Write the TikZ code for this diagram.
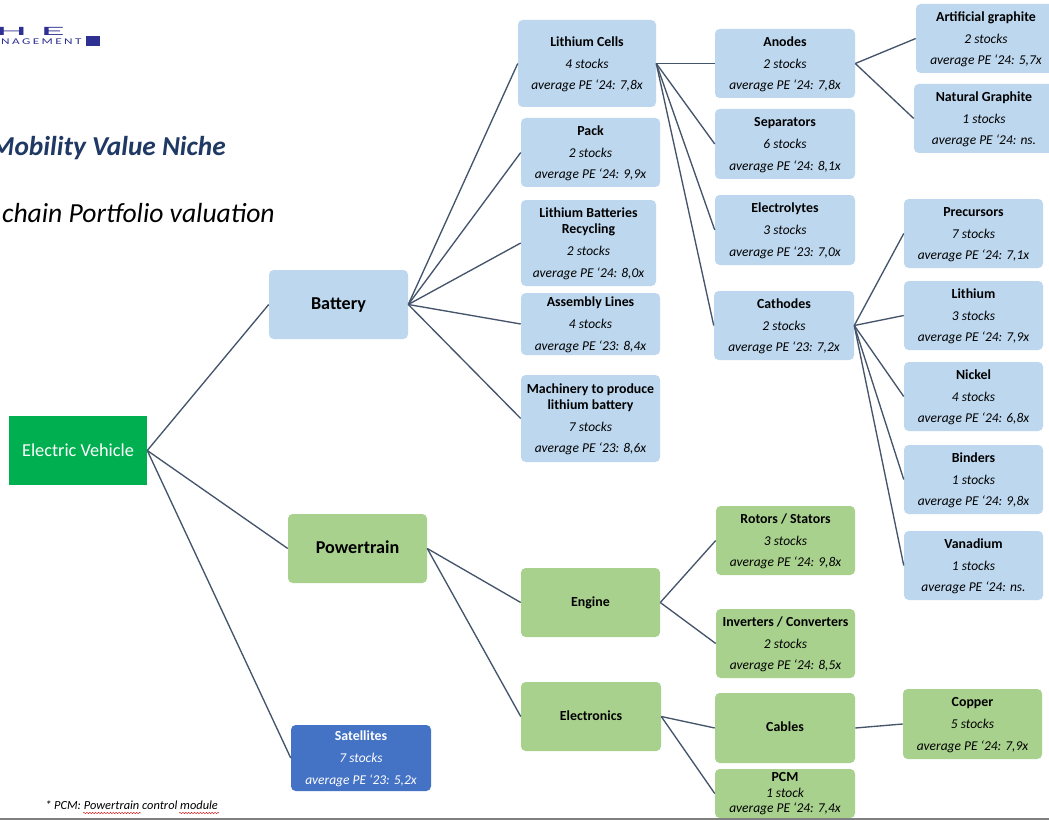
\documentclass[tikz,border=0pt]{standalone}
\usepackage{fontspec}
\setmainfont{Carlito}
\usetikzlibrary{decorations.pathmorphing}
\definecolor{bluebox}{RGB}{189,215,238}
\definecolor{greenbox}{RGB}{169,209,142}
\definecolor{evgreen}{RGB}{0,176,80}
\definecolor{satblue}{RGB}{68,114,196}
\definecolor{edgecol}{RGB}{68,84,106}
\definecolor{titleblue}{RGB}{31,56,100}
\definecolor{logoblue}{RGB}{46,49,146}
\tikzset{
  boxbase/.style={rounded corners=3.5pt,inner sep=0pt,align=center,text=black,
    font=\fontsize{10.1}{12}\selectfont},
  bb/.style={boxbase,fill=bluebox},
  gb/.style={boxbase,fill=greenbox},
  sb/.style={boxbase,fill=satblue,text=white},
  evb/.style={inner sep=0pt,fill=evgreen,text=white,font=\fontsize{13.7}{16}\selectfont},
  bigb/.style={font=\fontsize{13.6}{16}\selectfont\bfseries},
  link/.style={draw=edgecol,line width=1pt},
  squig/.style={draw=red!85!black,line width=0.3pt,decorate,decoration={snake,amplitude=0.5pt,segment length=2.2pt}}
}
\newcommand{\ttl}[1]{{\fontsize{10.4}{12}\selectfont\bfseries #1}}
\newcommand{\onel}[1]{\ttl{\rule[-3.2pt]{0pt}{12pt}#1}}
\newcommand{\biglab}[1]{\rule[-3.6pt]{0pt}{15pt}#1}
\newcommand{\bx}[7]{\node[#2,minimum width={(#5-#3)*0.75pt},minimum height={(#6-#4)*0.75pt}] (#1) at ({(#3+#5)/2},{(#4+#6)/2}) {#7};}
\newcommand{\topstr}{\rule{0pt}{8.5pt}}
\newcommand{\tri}[3]{\topstr\ttl{#1}\\[4.2pt]{\itshape #2}\\[4.2pt]{\itshape #3}}
\newcommand{\pcmtxt}[3]{\ttl{#1}\\[0.6pt]{\itshape #2}\\[-1pt]{\itshape #3}}
\begin{document}
\begin{tikzpicture}[x=0.75pt,y=-0.75pt]
\useasboundingbox (0,0) rectangle (1049,820);
\fill[white] (0,0) rectangle (1049,820);
\clip (0,0) rectangle (1049,820);
% logo
\node[anchor=east,text=logoblue,font=\fontsize{9.5}{10}\selectfont,xscale=3.9,inner sep=0pt] (logoh) at (28,31) {H};
\node[anchor=east,text=logoblue,font=\fontsize{9.5}{10}\selectfont,xscale=3.9,inner sep=0pt] (logoe) at (66,31) {E};
\node[anchor=east,text=logoblue,font=\fontsize{6.6}{7}\selectfont,xscale=1.5,inner sep=0pt] (logotxt) at (82,42) {N\hspace{1.2pt}A\hspace{1.2pt}G\hspace{1.2pt}E\hspace{1.2pt}M\hspace{1.2pt}E\hspace{1.2pt}N\hspace{1.2pt}T};
\fill[logoblue] (86,36) rectangle (100,46);
% titles
\node[anchor=east,inner sep=0pt,text=titleblue,font=\fontsize{20.5}{24}\selectfont\bfseries\itshape] (t1) at (226,148) {Mobility Value Niche};
\node[anchor=east,inner sep=0pt,text=black,font=\fontsize{20.7}{24}\selectfont\itshape] (t2) at (275,213) {chain Portfolio valuation};
% level 0/1
\bx{ev}{evb}{9}{416}{147}{485}{Electric Vehicle}
\bx{battery}{bb,bigb}{269}{270}{408}{339}{\biglab{Battery}}
\bx{power}{gb,bigb}{288}{514}{427}{583}{\biglab{Powertrain}}
\bx{sat}{sb}{291}{725}{431}{791}{\tri{Satellites}{7 stocks}{average PE ‘23: 5,2x}}
% level 2
\bx{cells}{bb}{518}{20}{656}{107}{\tri{Lithium Cells}{4 stocks}{average PE ‘24: 7,8x}}
\bx{pack}{bb}{521}{118}{660}{187}{\tri{Pack}{2 stocks}{average PE ‘24: 9,9x}}
\bx{recyc}{bb}{521}{200}{656}{286}{\topstr\ttl{Lithium Batteries}\\\ttl{Recycling}\\[4.2pt]{\itshape 2 stocks}\\[4.2pt]{\itshape average PE ‘24: 8,0x}}
\bx{assembly}{bb}{521}{293}{660}{355}{\tri{Assembly Lines}{4 stocks}{average PE ‘23: 8,4x}}
\bx{machinery}{bb}{521}{375}{660}{462}{\topstr\ttl{Machinery to produce}\\\ttl{lithium battery}\\[4.2pt]{\itshape 7 stocks}\\[4.2pt]{\itshape average PE ‘23: 8,6x}}
\bx{engine}{gb}{521}{568}{660}{637}{\onel{Engine}}
\bx{electronics}{gb}{521}{682}{661}{751}{\onel{Electronics}}
% level 3
\bx{anodes}{bb}{715}{29}{855}{98}{\tri{Anodes}{2 stocks}{average PE ‘24: 7,8x}}
\bx{separators}{bb}{715}{109}{855}{179}{\tri{Separators}{6 stocks}{average PE ‘24: 8,1x}}
\bx{electrolytes}{bb}{715}{195}{855}{265}{\tri{Electrolytes}{3 stocks}{average PE ‘23: 7,0x}}
\bx{cathodes}{bb}{714}{291}{854}{360}{\tri{Cathodes}{2 stocks}{average PE ‘23: 7,2x}}
\bx{rotors}{gb}{716}{506}{855}{575}{\tri{Rotors / Stators}{3 stocks}{average PE ‘24: 9,8x}}
\bx{inverters}{gb}{716}{609}{855}{678}{\tri{Inverters / Converters}{2 stocks}{average PE ‘24: 8,5x}}
\bx{cables}{gb}{715}{693}{855}{763}{\onel{Cables}}
\bx{pcm}{gb}{715}{769}{855}{818}{\pcmtxt{PCM}{1 stock}{average PE ‘24: 7,4x}}
% level 4
\bx{artificial}{bb}{916}{4}{1056}{73}{\tri{Artificial graphite}{2 stocks}{average PE ‘24: 5,7x}}
\bx{natural}{bb}{914}{84}{1054}{153}{\tri{Natural Graphite}{1 stocks}{average PE ‘24: ns.}}
\bx{precursors}{bb}{904}{199}{1043}{268}{\tri{Precursors}{7 stocks}{average PE ‘24: 7,1x}}
\bx{lithium}{bb}{904}{281}{1043}{350}{\tri{Lithium}{3 stocks}{average PE ‘24: 7,9x}}
\bx{nickel}{bb}{904}{362}{1043}{431}{\tri{Nickel}{4 stocks}{average PE ‘24: 6,8x}}
\bx{binders}{bb}{904}{445}{1043}{514}{\tri{Binders}{1 stocks}{average PE ‘24: 9,8x}}
\bx{vanadium}{bb}{904}{531}{1043}{600}{\tri{Vanadium}{1 stocks}{average PE ‘24: ns.}}
\bx{copper}{gb}{903}{689}{1042}{759}{\tri{Copper}{5 stocks}{average PE ‘24: 7,9x}}
% connectors
\foreach \a/\b in {ev/battery,ev/power,ev/sat,
  battery/cells,battery/pack,battery/recyc,battery/assembly,battery/machinery,
  power/engine,power/electronics,
  cells/anodes,cells/separators,cells/electrolytes,cells/cathodes,
  anodes/artificial,anodes/natural,
  cathodes/precursors,cathodes/lithium,cathodes/nickel,cathodes/binders,cathodes/vanadium,
  engine/rotors,engine/inverters,
  electronics/cables,electronics/pcm,cables/copper}
  \draw[link] (\a.east) -- (\b.west);
% footnote
\node[anchor=west,inner sep=0pt,font=\fontsize{9.3}{10}\selectfont\itshape] (foot) at (45,805.5) {* PCM: Powertrain control module};
\draw[squig] (83,813) -- (141,813);
\draw[squig] (179,813) -- (219,813);
% bottom rule
\draw[gray,line width=0.9pt] (0,819) -- (1049,819);
\end{tikzpicture}
\end{document}
